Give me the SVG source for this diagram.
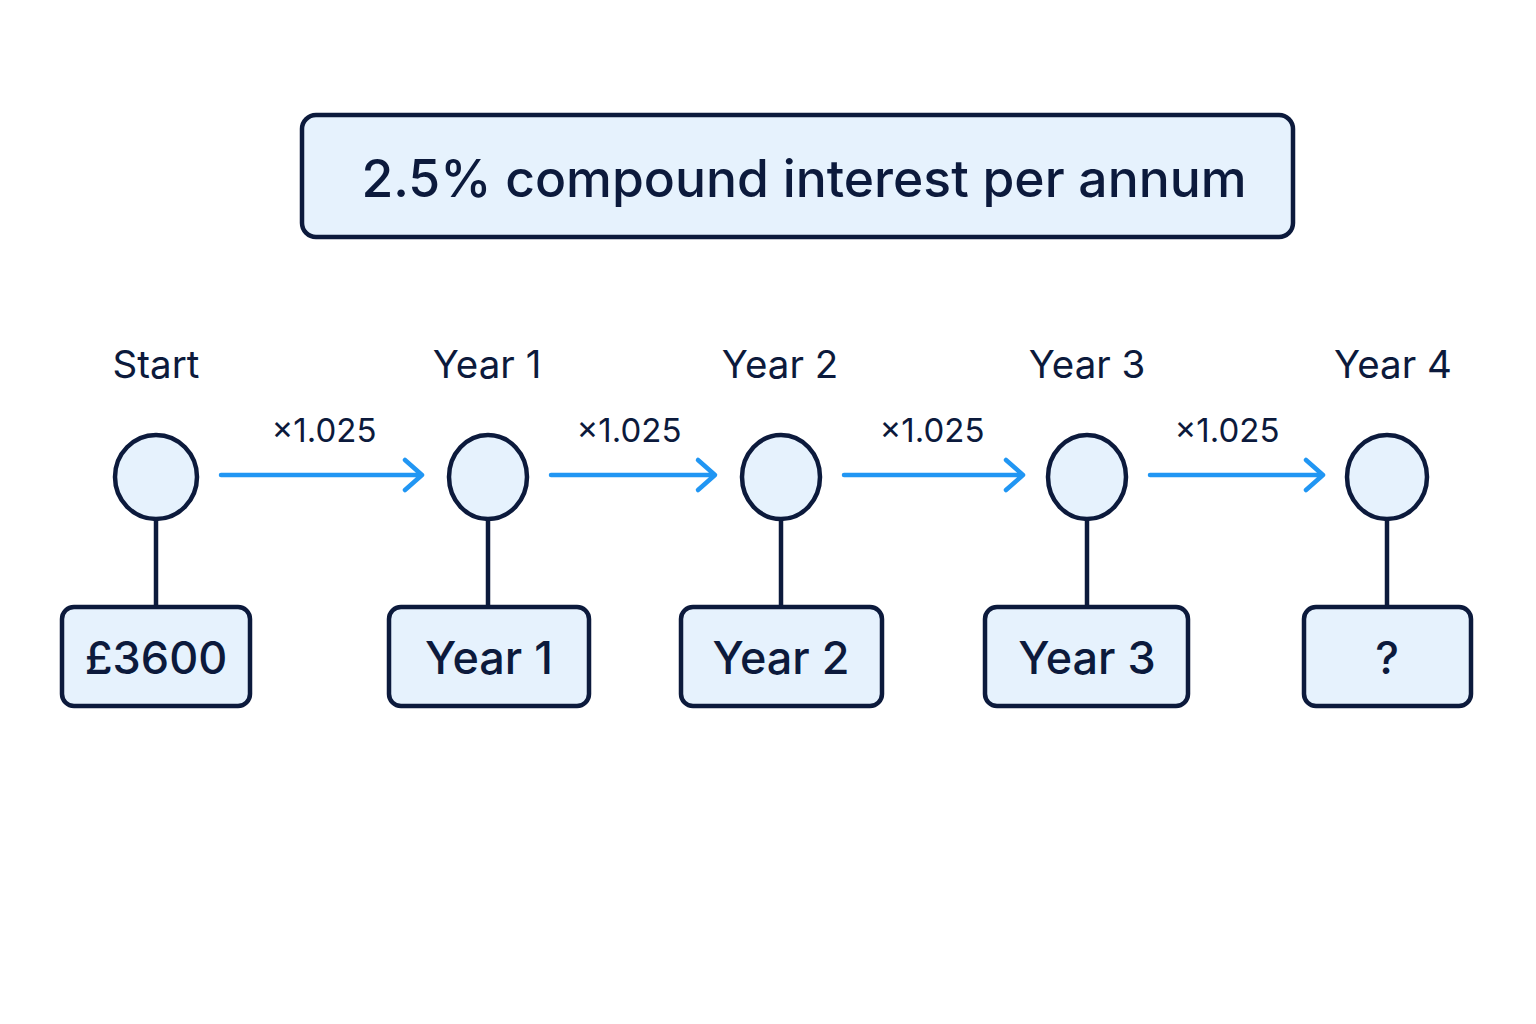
<svg xmlns="http://www.w3.org/2000/svg" width="1536" height="1024" viewBox="0 0 1536 1024">
<defs>
<style>
.box{fill:#e6f2fd;stroke:#0c1a3c;stroke-width:4.5}
.stem{stroke:#0c1a3c;stroke-width:4.5;fill:none}
.arr{stroke:#2196f3;stroke-width:4.5;fill:none;stroke-linecap:round;stroke-linejoin:round}
text{font-family:Inter,"Liberation Sans",sans-serif;fill:#0c1a3c;text-anchor:middle}
.title{font-size:51.6px;font-weight:500}
.lbl{font-size:38.5px}
.val{font-size:45px;font-weight:500}
.mul{font-size:33px}
</style>
</defs>
<rect width="1536" height="1024" fill="#ffffff"/>
<g id="title">
<rect class="box" x="302" y="115" width="991" height="122" rx="14"/>
<text class="title" x="804" y="197">2.5% compound interest per annum</text>
</g>
<g id="connectors">
<path class="arr" d="M221 475H421M405 460L422 475L405 490"/>
<path class="arr" d="M551 475H714M698 460L715 475L698 490"/>
<path class="arr" d="M844 475H1022M1006 460L1023 475L1006 490"/>
<path class="arr" d="M1150 475H1322M1306 460L1323 475L1306 490"/>
<text class="mul" x="324" y="442">×1.025</text>
<text class="mul" x="629" y="442">×1.025</text>
<text class="mul" x="932" y="442">×1.025</text>
<text class="mul" x="1227" y="442">×1.025</text>
</g>
<g id="start">
<text class="lbl" x="156" y="378">Start</text>
<line class="stem" x1="156" y1="520" x2="156" y2="607"/>
<ellipse class="box" cx="156" cy="477" rx="41" ry="42"/>
<rect class="box" x="62" y="607" width="188" height="99" rx="12"/>
<text class="val" x="156" y="674">£3600</text>
</g>
<g id="year1">
<text class="lbl" x="487" y="378">Year 1</text>
<line class="stem" x1="488" y1="520" x2="488" y2="607"/>
<ellipse class="box" cx="488" cy="477" rx="39" ry="42"/>
<rect class="box" x="389" y="607" width="200" height="99" rx="12"/>
<text class="val" x="489" y="674">Year 1</text>
</g>
<g id="year2">
<text class="lbl" x="780" y="378">Year 2</text>
<line class="stem" x1="781" y1="520" x2="781" y2="607"/>
<ellipse class="box" cx="781" cy="477" rx="39" ry="42"/>
<rect class="box" x="681" y="607" width="201" height="99" rx="12"/>
<text class="val" x="781" y="674">Year 2</text>
</g>
<g id="year3">
<text class="lbl" x="1087" y="378">Year 3</text>
<line class="stem" x1="1087" y1="520" x2="1087" y2="607"/>
<ellipse class="box" cx="1087" cy="477" rx="39" ry="42"/>
<rect class="box" x="985" y="607" width="203" height="99" rx="12"/>
<text class="val" x="1087" y="674">Year 3</text>
</g>
<g id="year4">
<text class="lbl" x="1393" y="378">Year 4</text>
<line class="stem" x1="1387" y1="520" x2="1387" y2="607"/>
<ellipse class="box" cx="1387" cy="477" rx="40" ry="42"/>
<rect class="box" x="1304" y="607" width="167" height="99" rx="12"/>
<text class="val" x="1387" y="674">?</text>
</g>
</svg>
